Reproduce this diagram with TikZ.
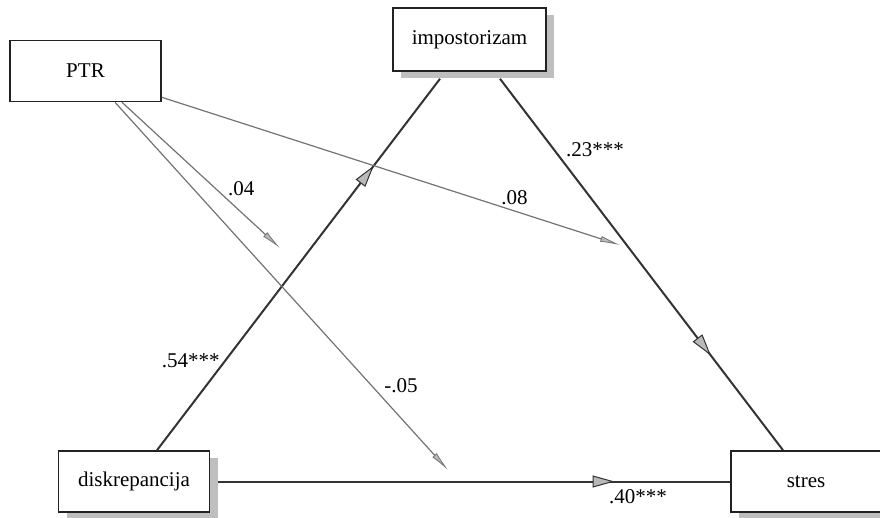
\documentclass[tikz,border=0pt]{standalone}
\usepackage{fontspec}
\setmainfont{Liberation Serif}
\newfontfamily\timesfont{Liberation Serif}
\usetikzlibrary{positioning, arrows.meta, shadows, decorations.markings}
\definecolor{boxcol}{RGB}{34,34,34}
\definecolor{pathcol}{RGB}{51,51,51}
\definecolor{modcol}{RGB}{115,115,115}
\definecolor{headcol}{RGB}{185,185,185}

\begin{document}
\begin{tikzpicture}[
			x=1pt, y=-1pt,
			on grid,
			font=\timesfont\fontsize{21}{25}\selectfont,
			var/.style={
				draw=boxcol,
				rectangle,
				line width=1.6pt,
				minimum width=151pt,
				minimum height=61pt,
				fill=white
			},
			boxshadow/.style={
				drop shadow={shadow xshift=8pt, shadow yshift=-7pt, fill=black!25, opacity=1}
			},
			main/.style={
				draw=pathcol,
				line width=2pt
			},
			mod/.style={
				draw=modcol,
				line width=1.2pt,
				-{Latex[length=20pt, width=6pt, fill=headcol, line width=0.8pt]}
			},
			midarrow/.style={
				postaction={decorate},
				decoration={markings,
					mark=at position #1 with {\arrow{Triangle[length=22pt, width=12pt, fill=headcol, line width=1pt]}}}
			}
			]
			\path[use as bounding box, clip] (0,0) rectangle (880,518);
			
			% Variables
			\node[var] (ptr) at (85.5,71) {PTR};
			\node[var, boxshadow, minimum width=153pt, minimum height=63pt] (imp) [above right=31.5pt and 384pt of ptr] {impostorizam};
			\node[var, boxshadow] (disk) [below right=410.5pt and 48.5pt of ptr] {diskrepancija};
			\node[var, boxshadow, minimum width=150pt] (stres) [right=672pt of disk] {stres};
			
			% Free ends of the moderator paths
			\coordinate (m1) at (280,248);
			\coordinate (m2) at (620,245);
			\coordinate (m3) at (448,470);
			
			% Paths
			\path
			([xshift=23pt]disk.north) edge [main, midarrow=.766] node[pos=.24, left=1pt] {.54***} ([xshift=-29.5pt, yshift=-7pt]imp.south)
			([xshift=30.5pt, yshift=-7pt]imp.south) edge [main, midarrow=.745] node[pos=.19, right=8pt] {.23***} ([xshift=-23pt]stres.north)
			([xshift=8pt]disk.east) edge [main, midarrow=.774] node[pos=.82, below=4pt] {.40***} (stres.west);
			
			\path
			([xshift=36.5pt]ptr.south) edge [mod] node[pos=.59, right=9pt] {.04} (m1)
			([yshift=5pt]ptr.south east) edge [mod] node[pos=.77, above=2pt] {.08} (m2)
			([xshift=29.5pt]ptr.south) edge [mod] node[pos=.77, right=9pt] {-.05} (m3);
		\end{tikzpicture}
\end{document}
